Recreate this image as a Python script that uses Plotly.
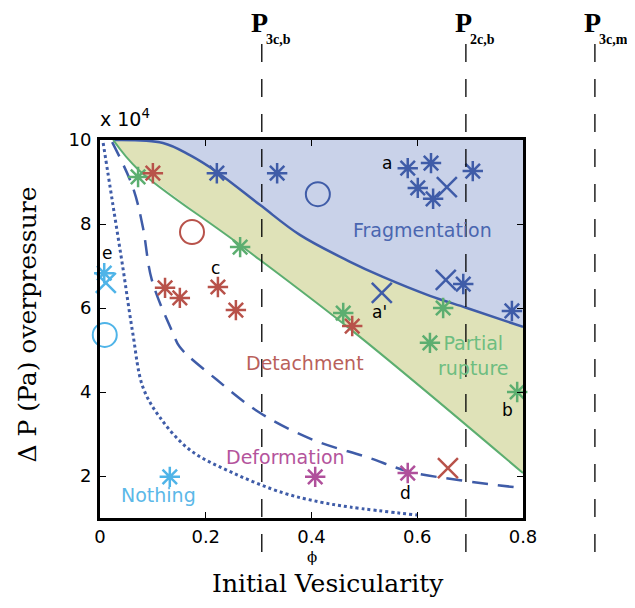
import plotly.graph_objects as go

# ---------------- data (phi, overpressure in units of 1e4 Pa) ----------------
frag_curve_x = [0.025, 0.119, 0.170, 0.221, 0.303, 0.378, 0.473, 0.535, 0.624, 0.694, 0.800]
frag_curve_y = [10.0, 9.93, 9.64, 9.24, 8.45, 7.74, 7.10, 6.74, 6.29, 6.00, 5.55]

rupt_curve_x = [0.025, 0.072, 0.265, 0.478, 0.800]
rupt_curve_y = [10.0, 9.30, 7.50, 5.45, 2.07]

dash_curve_x = [0.023, 0.062, 0.081, 0.098, 0.138, 0.151, 0.221, 0.303, 0.403, 0.505, 0.586, 0.681, 0.800]
dash_curve_y = [9.95, 8.88, 7.93, 6.67, 5.40, 5.07, 4.29, 3.50, 2.86, 2.45, 2.10, 1.90, 1.71]

dot_curve_x = [0.006, 0.023, 0.043, 0.062, 0.081, 0.113, 0.170, 0.252, 0.346, 0.416, 0.473, 0.600]
dot_curve_y = [9.93, 8.57, 6.98, 5.40, 4.12, 3.40, 2.62, 2.07, 1.60, 1.38, 1.26, 1.07]

blue_star_x = [0.221, 0.335, 0.582, 0.626, 0.705, 0.601, 0.630, 0.687, 0.779]
blue_star_y = [9.21, 9.21, 9.33, 9.45, 9.26, 8.86, 8.60, 6.57, 5.93]
blue_x_x = [0.656, 0.654, 0.533]
blue_x_y = [8.88, 6.67, 6.36]
blue_circ_x = [0.412]
blue_circ_y = [8.71]

green_star_x = [0.072, 0.265, 0.460, 0.649, 0.624, 0.789]
green_star_y = [9.12, 7.45, 5.88, 6.00, 5.17, 4.00]

red_star_x = [0.100, 0.123, 0.151, 0.223, 0.257, 0.477]
red_star_y = [9.21, 6.48, 6.24, 6.50, 5.95, 5.57]
red_circ_x = [0.174]
red_circ_y = [7.81]
red_x_x = [0.658]
red_x_y = [2.19]

mag_star_x = [0.407, 0.582]
mag_star_y = [1.98, 2.07]

cyan_star_x = [0.008, 0.132]
cyan_star_y = [6.83, 1.98]
cyan_x_x = [0.011]
cyan_x_y = [6.60]
cyan_circ_x = [0.009]
cyan_circ_y = [5.36]

point_labels = ["a", "a'", "b", "c", "d", "e"]
point_label_x = [0.543, 0.528, 0.770, 0.219, 0.577, 0.013]
point_label_y = [9.45, 5.90, 3.57, 6.95, 1.60, 7.31]

regions = ["Fragmentation", "Partial<br>rupture", "Detachment", "Deformation", "Nothing"]
region_x = [0.609, 0.707, 0.388, 0.350, 0.110]
region_y = [7.86, 4.88, 4.69, 2.45, 1.55]

thresholds = ["3c,b", "2c,b", "3c,m"]
threshold_x = [0.306, 0.692, 0.936]

x_ticks = [0, 0.2, 0.4, 0.6, 0.8]
x_tick_text = ["0", "0.2", "0.4", "0.6", "0.8"]
y_ticks = [2, 4, 6, 8, 10]
y_tick_text = ["2", "4", "6", "8", "10"]

XMIN, XMAX = 0.0, 0.8
YMIN, YMAX = 1.0, 10.0

# ---------------- styles ----------------
BLUE = "#3f5ca8"
GREEN = "#5cae70"
RED = "#b8524a"
MAG = "#b0509b"
CYAN = "#4fb4e8"
FILL_BLUE = "#c9d2e9"
FILL_YEL = "#dfe2b8"
SANS = "DejaVu Sans"
SERIF = "DejaVu Serif"

fig = go.Figure()

# fragmentation region (between blue curve and top)
fig.add_trace(go.Scatter(
    x=frag_curve_x + [frag_curve_x[-1], frag_curve_x[0]],
    y=frag_curve_y + [YMAX, YMAX],
    fill="toself", fillcolor=FILL_BLUE, line=dict(width=0), mode="lines",
    hoverinfo="skip", showlegend=False))
# partial rupture region (between green and blue curves)
fig.add_trace(go.Scatter(
    x=rupt_curve_x + frag_curve_x[::-1],
    y=rupt_curve_y + frag_curve_y[::-1],
    fill="toself", fillcolor=FILL_YEL, line=dict(width=0), mode="lines",
    hoverinfo="skip", showlegend=False))

fig.add_trace(go.Scatter(x=frag_curve_x, y=frag_curve_y, mode="lines",
                         line=dict(color=BLUE, width=2.5, shape="spline"), showlegend=False))
fig.add_trace(go.Scatter(x=rupt_curve_x, y=rupt_curve_y, mode="lines",
                         line=dict(color=GREEN, width=2, shape="spline"), showlegend=False))
fig.add_trace(go.Scatter(x=dash_curve_x, y=dash_curve_y, mode="lines",
                         line=dict(color=BLUE, width=2.5, dash="16px,10px", shape="spline"),
                         showlegend=False))
fig.add_trace(go.Scatter(x=dot_curve_x, y=dot_curve_y, mode="lines",
                         line=dict(color=BLUE, width=3, dash="dot", shape="spline"),
                         showlegend=False))


def markers(xs, ys, color, symbol, size, lw):
    fig.add_trace(go.Scatter(
        x=xs, y=ys, mode="markers", cliponaxis=False, showlegend=False,
        marker=dict(symbol=symbol, size=size, color=color,
                    line=dict(color=color, width=lw))))


STAR, XS, CIRC = "asterisk-open", "x-thin-open", "circle-open"
markers(blue_star_x, blue_star_y, BLUE, STAR, 17, 2.5)
markers(blue_x_x, blue_x_y, BLUE, XS, 20, 2.5)
markers(blue_circ_x, blue_circ_y, BLUE, CIRC, 24, 2)
markers(green_star_x, green_star_y, GREEN, STAR, 17, 2.5)
markers(red_star_x, red_star_y, RED, STAR, 17, 2.5)
markers(red_circ_x, red_circ_y, RED, CIRC, 24, 2)
markers(red_x_x, red_x_y, RED, XS, 20, 2.5)
markers(mag_star_x, mag_star_y, MAG, STAR, 17, 2.5)
markers(cyan_star_x, cyan_star_y, CYAN, STAR, 17, 2.5)
markers(cyan_x_x, cyan_x_y, CYAN, XS, 20, 2.5)
markers(cyan_circ_x, cyan_circ_y, CYAN, CIRC, 24, 2)

annotations = []
for t, x, y in zip(point_labels, point_label_x, point_label_y):
    annotations.append(dict(x=x, y=y, xref="x", yref="y", text=t, showarrow=False,
                            font=dict(family=SANS, size=17, color="black")))

region_colors = ["#4a66b0", "#6dbd80", "#b9605a", "#b4549c", "#5bb8e8"]
for t, x, y, c in zip(regions, region_x, region_y, region_colors):
    annotations.append(dict(x=x, y=y, xref="x", yref="y", text=t, showarrow=False,
                            font=dict(family=SANS, size=19, color=c)))

shapes = []
for name, tx in zip(thresholds, threshold_x):
    px = (tx - XMIN) / (XMAX - XMIN)
    shapes.append(dict(type="line", xref="paper", yref="paper", x0=px, x1=px,
                       y0=1.254, y1=-0.105,
                       line=dict(color="black", width=1.3, dash="18px,17px")))
    annotations.append(dict(x=px, y=1.312, xref="paper", yref="paper", xanchor="left",
                            yanchor="middle", xshift=-13, showarrow=False,
                            text="<b>P</b>",
                            font=dict(family="Liberation Serif", size=28, color="black")))
    annotations.append(dict(x=px, y=1.265, xref="paper", yref="paper", xanchor="left",
                            yanchor="middle", xshift=2, showarrow=False,
                            text="<b>" + name + "</b>",
                            font=dict(family="Liberation Serif", size=14, color="black")))

annotations.append(dict(x=0, y=1.0, xref="paper", yref="paper", xanchor="left", yanchor="bottom",
                        yshift=8, xshift=-2, showarrow=False, text="x 10<sup>4</sup>",
                        font=dict(family=SANS, size=19, color="black")))
annotations.append(dict(x=0.5, y=0, xref="paper", yref="paper", xanchor="center", yanchor="top",
                        yshift=-28, showarrow=False, text="ϕ",
                        font=dict(family=SERIF, size=15, color="black")))
annotations.append(dict(x=0.54, y=0, xref="paper", yref="paper", xanchor="center", yanchor="top",
                        yshift=-49, showarrow=False, text="Initial Vesicularity",
                        font=dict(family=SERIF, size=25, color="black")))
annotations.append(dict(x=0, y=0.512, xref="paper", yref="paper", xanchor="center", yanchor="middle",
                        xshift=-73, showarrow=False, text="Δ P (Pa) overpressure", textangle=-90,
                        font=dict(family=SERIF, size=25, color="black")))

axis_common = dict(showline=True, linecolor="black", linewidth=3, mirror="ticks",
                   ticks="inside", ticklen=6, tickwidth=1, tickcolor="black",
                   showgrid=False, zeroline=False,
                   tickfont=dict(family=SANS, size=18, color="black"))

fig.update_layout(
    width=619, height=592,
    margin=dict(l=92, r=104, t=132, b=82),
    plot_bgcolor="white", paper_bgcolor="white",
    xaxis=dict(range=[XMIN, XMAX], tickvals=x_ticks, ticktext=x_tick_text, **axis_common),
    yaxis=dict(range=[YMIN, YMAX], tickvals=y_ticks, ticktext=y_tick_text,
               ticklabelstandoff=2, **axis_common),
    shapes=shapes, annotations=annotations, showlegend=False,
)

fig.write_html("out.html")
